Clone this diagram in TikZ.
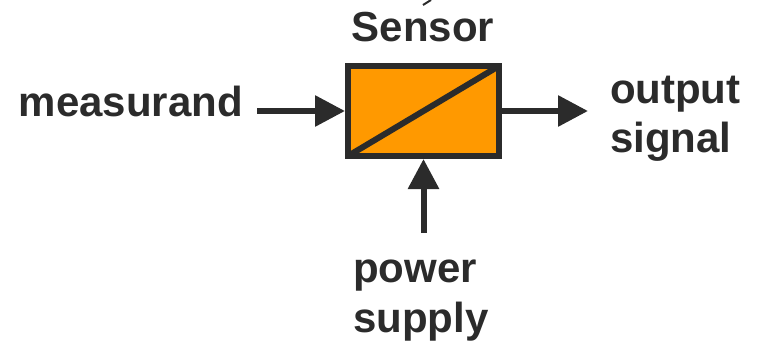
\documentclass[tikz,border=0pt]{standalone}
\usepackage{fontspec}
\setmainfont{Liberation Sans}
\usetikzlibrary{arrows.meta,calc}
\definecolor{ink}{RGB}{43,43,43}
\definecolor{sensorfill}{RGB}{255,153,0}
\tikzset{
  lbl/.style={font=\fontsize{42}{50}\selectfont\bfseries, text=ink, inner sep=0pt, outer sep=0pt},
  arr/.style={draw=ink, line width=6pt, -{Triangle[length=30pt,width=30pt]}},
  sensorbox/.style={draw=ink, fill=sensorfill, line width=6pt, minimum width=151pt, minimum height=90pt, inner sep=0pt}
}
\begin{document}
\begin{tikzpicture}[x=1pt,y=-1pt]
\useasboundingbox (0,0) rectangle (764,345);
\node[sensorbox] (sensor) at (423.5,111) {};
\draw[ink, line width=6pt] ($(sensor.south west)+(3,-3)$) -- ($(sensor.north east)+(-3,3)$);
\node[sensorbox, fill=none] at (sensor) {};
\node[lbl, anchor=base] (title) at (423,42) {Sensor};
\node[lbl, anchor=base east] (meas) at (243,117) {measurand};
\node[lbl, anchor=base west, align=left] (outsig) at (610,153) {output\\signal};
\node[lbl, anchor=base west, align=left] (power) at (353,332) {power\\supply};
\coordinate (measstart) at (257,111);
\coordinate (outend) at (588,111);
\coordinate (powstart) at (423.5,233);
\draw[arr] (measstart) -- (sensor.west);
\draw[arr] (sensor.east) -- (outend);
\draw[arr] (powstart) -- (sensor.south);
\coordinate (tick1) at (423,5);
\coordinate (tick2) at (431,0);
\draw[ink, line width=2pt] (tick1) -- (tick2);
\end{tikzpicture}
\end{document}
